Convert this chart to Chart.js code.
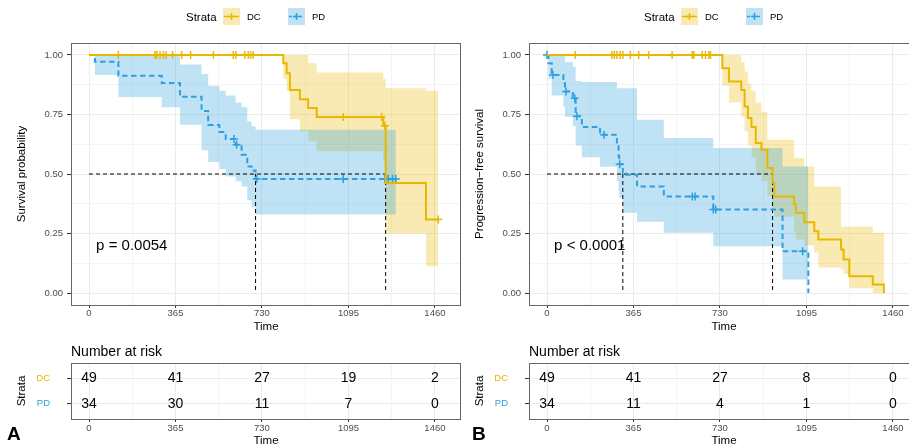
<!DOCTYPE html>
<html>
<head>
<meta charset="utf-8">
<title>Kaplan-Meier DC vs PD</title>
<script src="https://cdn.jsdelivr.net/npm/chart.js@4.4.0/dist/chart.umd.min.js"></script>
<style>
  body { margin: 0; background: #fff; overflow: hidden; }
  #wrap { position: relative; width: 909px; height: 448px; overflow: hidden; font-family: "Liberation Sans", Arial, sans-serif; }
  canvas { position: absolute; }
  .lbl { position: absolute; white-space: nowrap; color: #000; }
</style>
</head>
<body>
<div id="wrap">
  <canvas id="kmA" width="462" height="340" style="left:0px;top:0px"></canvas>
  <canvas id="riskA" width="462" height="108" style="left:0px;top:340px"></canvas>
  <canvas id="kmB" width="462" height="340" style="left:458px;top:0px"></canvas>
  <canvas id="riskB" width="462" height="108" style="left:458px;top:340px"></canvas>

  <div class="lbl" style="left:186px;top:10px;font-size:11.5px;line-height:14px">Strata</div>
  <div class="lbl" style="left:247px;top:11px;font-size:9.5px;line-height:12px">DC</div>
  <div class="lbl" style="left:312px;top:11px;font-size:9.5px;line-height:12px">PD</div>
  <div class="lbl" style="left:644px;top:10px;font-size:11.5px;line-height:14px">Strata</div>
  <div class="lbl" style="left:705px;top:11px;font-size:9.5px;line-height:12px">DC</div>
  <div class="lbl" style="left:770px;top:11px;font-size:9.5px;line-height:12px">PD</div>

  <div class="lbl" style="left:71px;top:342px;font-size:14px;line-height:18px">Number at risk</div>
  <div class="lbl" style="left:529px;top:342px;font-size:14px;line-height:18px">Number at risk</div>

  <div class="lbl" style="left:7px;top:423px;font-size:19px;line-height:22px;font-weight:bold">A</div>
  <div class="lbl" style="left:472px;top:423px;font-size:19px;line-height:22px;font-weight:bold">B</div>
</div>

<script>
const FONT = '"Liberation Sans", Arial, sans-serif';
const DC_COL = '#E7B800';
const PD_COL = '#2E9FDF';
const DC_FILL = 'rgba(231,184,0,0.3)';
const PD_FILL = 'rgba(46,159,223,0.3)';

// axis breaks
const xMajor = [0, 365, 730, 1095, 1460];
const xMinor = [182.5, 547.5, 912.5, 1277.5];
const yMajor = [0, 0.25, 0.5, 0.75, 1];
const yMinor = [0.125, 0.375, 0.625, 0.875];
const strata = ['DC', 'PD'];

// ---- panel A : overall survival ----
const osDcTime   = [0, 820, 834, 848, 890, 925, 961, 1242, 1252, 1422, 1474];
const osDcSurv   = [1, 0.965, 0.923, 0.853, 0.814, 0.777, 0.739, 0.703, 0.462, 0.309, 0.309];
const osDcUpper  = [1, 1, 1, 1, 1, 0.965, 0.926, 0.90, 0.86, 0.85, 0.85];
const osDcLower  = [1, 0.90, 0.85, 0.73, 0.68, 0.64, 0.595, 0.55, 0.25, 0.113, 0.113];
const osDcCensor = [124, 278, 286, 300, 314, 325, 353, 391, 429, 525, 609, 620, 658, 672, 682, 693, 1073, 1235, 1249, 1474];

const osPdTime   = [0, 25, 124, 307, 384, 475, 503, 550, 577, 619, 644, 668, 686, 703, 1295];
const osPdSurv   = [1, 0.971, 0.912, 0.882, 0.824, 0.765, 0.706, 0.676, 0.647, 0.623, 0.581, 0.532, 0.515, 0.479, 0.479];
const osPdUpper  = [1, 1, 1, 1, 0.96, 0.92, 0.87, 0.85, 0.83, 0.80, 0.78, 0.72, 0.70, 0.686, 0.686];
const osPdLower  = [1, 0.916, 0.823, 0.78, 0.707, 0.60, 0.55, 0.52, 0.49, 0.47, 0.448, 0.39, 0.36, 0.33, 0.33];
const osPdCensor = [612, 623, 708, 1073, 1249, 1263, 1281, 1295];

const osMedian = [703, 1252];
const osRiskDc = [49, 41, 27, 19, 2];
const osRiskPd = [34, 30, 11, 7, 0];

// ---- panel B : progression-free survival ----
const pfsDcTime   = [0, 740, 768, 820, 834, 848, 863, 881, 905, 930, 952, 959, 1043, 1050, 1086, 1128, 1145, 1241, 1252, 1276, 1375, 1422];
const pfsDcSurv   = [1, 0.944, 0.888, 0.853, 0.783, 0.735, 0.697, 0.63, 0.602, 0.525, 0.463, 0.406, 0.372, 0.337, 0.297, 0.26, 0.225, 0.183, 0.141, 0.071, 0.036, 0];
const pfsDcUpper  = [1, 1, 1, 0.97, 0.93, 0.88, 0.85, 0.80, 0.76, 0.644, 0.644, 0.644, 0.567, 0.567, 0.532, 0.448, 0.448, 0.28, 0.28, 0.28, 0.253, 0.253];
const pfsDcLower  = [1, 0.87, 0.80, 0.74, 0.68, 0.62, 0.57, 0.50, 0.47, 0.41, 0.35, 0.32, 0.26, 0.225, 0.20, 0.17, 0.107, 0.10, 0.08, 0.02, 0, 0];
const pfsDcCensor = [119, 274, 284, 295, 309, 320, 352, 387, 429, 528, 613, 620, 655, 669, 683, 690];

const pfsPdTime   = [0, 6, 20, 69, 76, 109, 121, 147, 224, 295, 302, 305, 320, 380, 493, 702, 994, 1103];
const pfsPdSurv   = [1, 0.965, 0.916, 0.881, 0.846, 0.818, 0.742, 0.697, 0.665, 0.616, 0.574, 0.541, 0.497, 0.448, 0.406, 0.351, 0.176, 0];
const pfsPdUpper  = [1, 1, 1, 1, 0.97, 0.95, 0.89, 0.886, 0.886, 0.86, 0.86, 0.86, 0.86, 0.728, 0.651, 0.609, 0.532, 0.532];
const pfsPdLower  = [1, 0.90, 0.83, 0.78, 0.74, 0.70, 0.62, 0.57, 0.53, 0.47, 0.43, 0.40, 0.337, 0.30, 0.253, 0.197, 0.057, 0.057];
const pfsPdCensor = [0, 25, 80, 117, 126, 241, 307, 613, 625, 702, 712, 1079];

const pfsMedian = [320, 952];
const pfsRiskDc = [49, 41, 27, 8, 0];
const pfsRiskPd = [34, 11, 4, 1, 0];

const panelA = {
    yTitle: 'Survival probability', pText: 'p = 0.0054',
    dc: {time: osDcTime, surv: osDcSurv, upper: osDcUpper, lower: osDcLower, censor: osDcCensor},
    pd: {time: osPdTime, surv: osPdSurv, upper: osPdUpper, lower: osPdLower, censor: osPdCensor},
    median: osMedian, risk: [osRiskDc, osRiskPd]
};
const panelB = {
    yTitle: 'Progression\u2212free survival', pText: 'p < 0.0001',
    dc: {time: pfsDcTime, surv: pfsDcSurv, upper: pfsDcUpper, lower: pfsDcLower, censor: pfsDcCensor},
    pd: {time: pfsPdTime, surv: pfsPdSurv, upper: pfsPdUpper, lower: pfsPdLower, censor: pfsPdCensor},
    median: pfsMedian, risk: [pfsRiskDc, pfsRiskPd]
};

// grey box round the panel
const panelBorder = {
    id: 'panelBorder',
    afterDraw(chart) {
        const a = chart.chartArea, ctx = chart.ctx;
        ctx.save();
        ctx.strokeStyle = '#666';
        ctx.lineWidth = 1;
        ctx.strokeRect(Math.round(a.left) + 0.5, Math.round(a.top) + 0.5, Math.round(a.right - a.left) - 1, Math.round(a.bottom - a.top));
        ctx.restore();
    }
};

// p value written inside the plot, placed in data units
const pValue = {
    id: 'pValue',
    afterDatasetsDraw(chart, args, opts) {
        if (!opts.text) return;
        const ctx = chart.ctx;
        ctx.save();
        ctx.font = '15px ' + FONT;
        ctx.fillStyle = '#000';
        ctx.textAlign = 'left';
        ctx.textBaseline = 'middle';
        ctx.fillText(opts.text, chart.scales.x.getPixelForValue(opts.at[0]), chart.scales.y.getPixelForValue(opts.at[1]));
        ctx.restore();
    }
};

// legend keys above the panel (ribbon box + line + cross)
const legendKeys = {
    id: 'legendKeys',
    afterDraw(chart) {
        const ctx = chart.ctx;
        const keys = [[223, DC_FILL, DC_COL, []], [288, PD_FILL, PD_COL, [3, 2]]];
        ctx.save();
        keys.forEach(k => {
            const x = k[0], y = 8, s = 17;
            ctx.fillStyle = k[1];
            ctx.fillRect(x, y, s, s);
            ctx.strokeStyle = k[2];
            ctx.lineWidth = 1.5;
            ctx.setLineDash(k[3]);
            ctx.beginPath();
            ctx.moveTo(x + 1, y + 8.5);
            ctx.lineTo(x + s - 1, y + 8.5);
            ctx.stroke();
            ctx.setLineDash([]);
            ctx.beginPath();
            ctx.moveTo(x + 8.5, y + 5);
            ctx.lineTo(x + 8.5, y + 12);
            ctx.moveTo(x + 5, y + 8.5);
            ctx.lineTo(x + 12, y + 8.5);
            ctx.stroke();
        });
        ctx.restore();
    }
};

// numbers at risk, written where the (hidden) points of the table datasets sit
const riskNumbers = {
    id: 'riskNumbers',
    afterDatasetsDraw(chart) {
        const ctx = chart.ctx;
        ctx.save();
        ctx.font = '14px ' + FONT;
        ctx.fillStyle = '#000';
        ctx.textAlign = 'center';
        ctx.textBaseline = 'middle';
        chart.data.datasets.forEach((ds, i) => {
            chart.getDatasetMeta(i).data.forEach((pt, j) => {
                ctx.fillText(String(ds.data[j].n), pt.x, pt.y);
            });
        });
        ctx.restore();
    }
};

class KmFigure {

    static onLoadFunctions() { // draws both panels
        KmFigure.survivalChart('kmA', panelA)
        KmFigure.riskTable('riskA', panelA)
        KmFigure.survivalChart('kmB', panelB)
        KmFigure.riskTable('riskB', panelB)
    }

    static pts(times, vals) {
        return times.map((t, i) => ({x: t, y: vals[i]}))
    }

    // value of a KM step function at time t
    static survAt(times, surv, t) {
        let s = surv[0];
        for (let i = 0; i < times.length; i++) {
            if (times[i] <= t) s = surv[i];
        }
        return s;
    }

    static gridTicks(major, minor) {
        return major.concat(minor).sort((a, b) => a - b).map(v => ({value: v}))
    }

    static xAxis(height, tickPad, titlePad) {
        return {
            type: 'linear', min: -76, max: 1570,
            afterBuildTicks: ax => { ax.ticks = KmFigure.gridTicks(xMajor, xMinor) },
            afterFit: ax => { ax.height = height },
            ticks: {
                autoSkip: false, maxRotation: 0, padding: tickPad, color: '#4D4D4D',
                font: {family: FONT, size: 9.5},
                callback: v => xMajor.includes(v) ? String(v) : ''
            },
            grid: {
                color: c => (c.tick && xMajor.includes(c.tick.value)) ? '#EBEBEB' : '#F4F4F4',
                lineWidth: 1, tickLength: 3,
                tickColor: c => (c.tick && xMajor.includes(c.tick.value)) ? '#333' : 'rgba(0,0,0,0)'
            },
            border: {display: false},
            title: {display: true, text: 'Time', color: '#000', font: {family: FONT, size: 11.5}, padding: {top: 0, bottom: titlePad}}
        }
    }

    static survivalChart(canvasId, p) {
        const line = (g, col, dash) => ({
            data: KmFigure.pts(g.time, g.surv), borderColor: col, borderWidth: 2, borderDash: dash,
            stepped: true, pointRadius: 0, fill: false, order: 0
        });
        const marks = (g, col) => ({
            data: g.censor.map(t => ({x: t, y: KmFigure.survAt(g.time, g.surv, t)})),
            showLine: false, pointStyle: 'cross', pointRadius: 4, pointHoverRadius: 4,
            pointBorderColor: col, pointBorderWidth: 1.5, borderColor: col, order: 0
        });
        const band = (g, vals, fill, order, isTop) => ({
            data: KmFigure.pts(g.time, vals), borderColor: 'rgba(0,0,0,0)', borderWidth: 0,
            backgroundColor: fill, stepped: true, pointRadius: 0, fill: isTop ? '+1' : false, order: order
        });
        const dashed = pts => ({
            data: pts, borderColor: '#000', borderWidth: 1, borderDash: [4, 3],
            pointRadius: 0, fill: false, order: 1
        });

        const medLines = [dashed([{x: 0, y: 0.5}, {x: Math.max(...p.median), y: 0.5}])]
            .concat(p.median.map(m => dashed([{x: m, y: 0.5}, {x: m, y: 0}])));

        const datasets = [
            line(p.dc, DC_COL, []),
            line(p.pd, PD_COL, [5.5, 3.5]),
            marks(p.dc, DC_COL),
            marks(p.pd, PD_COL),
            ...medLines,
            band(p.pd, p.pd.upper, PD_FILL, 2, true),
            band(p.pd, p.pd.lower, PD_FILL, 2, false),
            band(p.dc, p.dc.upper, DC_FILL, 3, true),
            band(p.dc, p.dc.lower, DC_FILL, 3, false)
        ];

        new Chart(document.getElementById(canvasId), {
            type: 'line',
            data: {datasets: datasets},
            plugins: [panelBorder, pValue, legendKeys],
            options: {
                responsive: false, animation: false, devicePixelRatio: 1,
                layout: {autoPadding: false, padding: {top: 43, right: 1, left: 0, bottom: 0}},
                elements: {line: {tension: 0}},
                plugins: {
                    legend: {display: false}, tooltip: {enabled: false},
                    pValue: {text: p.pText, at: [30, 0.197]}
                },
                scales: {
                    x: KmFigure.xAxis(35, 0, 6),
                    y: {
                        type: 'linear', min: -0.05, max: 1.05,
                        afterBuildTicks: ax => { ax.ticks = KmFigure.gridTicks(yMajor, yMinor) },
                        afterFit: ax => { ax.width = 71 },
                        ticks: {
                            autoSkip: false, padding: 4, color: '#4D4D4D',
                            font: {family: FONT, size: 9.5},
                            callback: v => yMajor.includes(v) ? v.toFixed(2) : ''
                        },
                        grid: {
                            color: c => (c.tick && yMajor.includes(c.tick.value)) ? '#EBEBEB' : '#F4F4F4',
                            lineWidth: 1, tickLength: 4,
                            tickColor: c => (c.tick && yMajor.includes(c.tick.value)) ? '#333' : 'rgba(0,0,0,0)'
                        },
                        border: {display: false},
                        title: {display: true, text: p.yTitle, color: '#000', font: {family: FONT, size: 11.5}, padding: {top: 15, bottom: 0}}
                    }
                }
            }
        });
    }

    static riskTable(canvasId, p) {
        // one hidden point per time break and stratum, the number is printed on top of it
        const datasets = p.risk.map((row, r) => ({
            data: row.map((n, i) => ({x: xMajor[i], y: r + 1, n: n})),
            showLine: false, pointRadius: 0, pointHoverRadius: 0
        }));

        new Chart(document.getElementById(canvasId), {
            type: 'line',
            data: {datasets: datasets},
            plugins: [panelBorder, riskNumbers],
            options: {
                responsive: false, animation: false, devicePixelRatio: 1,
                layout: {autoPadding: false, padding: {top: 23, right: 1, left: 0, bottom: 0}},
                plugins: {legend: {display: false}, tooltip: {enabled: false}},
                scales: {
                    x: KmFigure.xAxis(29, 1, 0),
                    y: {
                        type: 'linear', min: 0.4, max: 2.6, reverse: true,
                        afterBuildTicks: ax => { ax.ticks = [{value: 1}, {value: 2}] },
                        afterFit: ax => { ax.width = 71 },
                        ticks: {
                            autoSkip: false, padding: 17,
                            color: c => (c.tick && c.tick.value === 1) ? DC_COL : PD_COL,
                            font: {family: FONT, size: 9.5},
                            callback: v => strata[v - 1] || ''
                        },
                        grid: {color: '#EBEBEB', lineWidth: 1, tickLength: 4, tickColor: '#333'},
                        border: {display: false},
                        title: {display: true, text: 'Strata', color: '#000', font: {family: FONT, size: 11.5}, padding: {top: 15, bottom: 0}}
                    }
                }
            }
        });
    }
}

KmFigure.onLoadFunctions()
</script>
</body>
</html>
